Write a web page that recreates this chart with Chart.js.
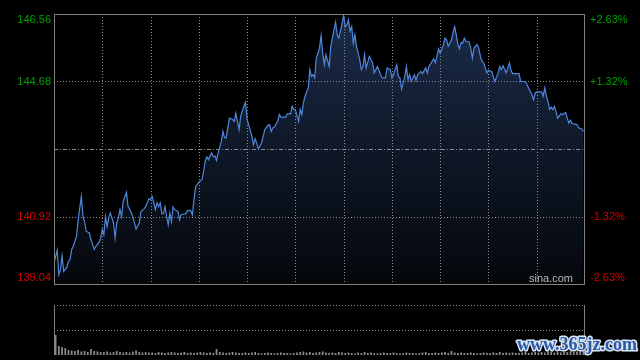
<!DOCTYPE html>
<html lang="zh-CN">
<head>
<meta charset="UTF-8">
<title>分时图</title>
<style>
  html, body { margin: 0; padding: 0; background: #000; }
  #wrap { position: relative; width: 640px; height: 360px; }
  #wrap canvas { position: absolute; left: 0; top: 0; }
</style>
</head>
<body>
<div id="wrap">
  <canvas id="priceChart" width="640" height="360"></canvas>
  <canvas id="volChart" width="640" height="360"></canvas>
</div>
<script src="https://cdn.jsdelivr.net/npm/chart.js"></script>
<script>
// minutes since open (HK session, 330 minutes)
const times = [0,2,3,4,5,6,8,9,10,11,12,14,15,17,18,19,20,22,23,25,26,28,29,30,31,32,33,34,35,37,38,39,40,41,42,43,45,46,47,49,50,51,53,
  54,56,57,59,60,61,62,63,64,65,66,67,68,69,70,71,72,73,74,75,77,78,79,81,82,83,85,86,87,88,89,90,92,93,94,95,96,97,98,99,100,101,102,104,105,106,107,108,
  109,111,112,113,115,116,118,119,120,121,123,124,125,126,127,129,130,131,133,134,135,136,137,139,140,141,144,145,147,148,149,150,152,153,154,155,156,158,159,160,161,162,163,165,
  166,167,168,169,171,172,174,175,176,177,178,180,181,182,183,184,185,186,187,188,190,191,192,193,194,196,198,199,201,203,204,206,207,209,210,211,213,214,215,216,218,219,220,221,
  222,224,225,226,228,229,231,232,233,235,236,237,239,240,241,242,243,244,245,247,248,249,250,251,252,253,254,255,256,258,259,260,261,263,264,265,266,267,268,269,270,272,273,
  274,276,277,278,279,280,281,283,284,285,289,290,293,294,296,297,298,299,300,303,304,305,306,307,308,309,310,311,312,313,315,316,318,319,320,321,322,325,326,328,329];

const prices = [139.63,139.98,139.30,139.44,139.83,139.39,139.51,139.67,139.72,140.00,140.09,140.37,140.83,141.48,140.92,140.78,140.51,140.46,140.27,140.00,
  140.09,140.20,140.32,140.57,140.41,140.92,140.64,140.88,141.02,140.74,140.32,140.74,140.88,141.11,140.92,141.34,141.59,141.20,141.13,140.92,140.74,140.57,140.74,
  141.06,141.13,141.20,141.42,141.39,141.48,141.31,141.11,141.30,141.20,141.30,141.00,141.00,141.19,140.92,140.69,141.02,140.78,141.19,141.11,
  141.06,140.83,140.97,140.99,141.00,141.09,141.08,140.97,141.39,141.74,141.81,141.87,141.95,142.18,142.46,142.58,142.50,142.61,142.69,142.58,
  142.61,142.48,142.69,143.01,143.29,143.11,143.11,143.39,
  143.66,143.62,143.57,143.80,143.34,143.71,143.99,144.10,143.62,143.48,143.15,142.92,143.08,142.97,142.80,142.97,143.15,143.34,143.46,143.48,
  143.29,143.39,143.41,143.57,143.76,143.69,143.69,143.78,143.78,143.99,143.90,143.90,143.57,143.90,143.76,144.08,144.27,144.50,145.01,144.82,
  144.87,144.78,145.33,145.61,
  145.96,145.47,145.15,145.43,145.10,145.66,146.12,146.33,145.98,145.89,146.08,146.51,146.21,146.26,146.40,146.08,146.21,145.75,145.98,145.66,
  145.29,145.01,145.10,145.43,145.06,145.38,145.20,144.92,145.10,144.87,144.78,144.78,145.06,145.01,144.78,144.87,145.15,144.82,144.78,144.47,
  144.82,145.10,144.73,144.87,
  144.68,144.87,144.71,144.87,144.96,144.90,145.06,144.92,145.10,145.24,145.31,145.20,145.59,145.47,145.57,145.71,145.89,145.84,145.66,145.84,
  146.05,146.21,145.98,145.71,145.59,145.77,145.75,145.89,145.80,145.78,145.61,145.33,145.61,145.71,145.61,145.38,145.24,145.20,145.06,144.92,
  144.99,144.96,144.82,
  144.68,144.92,145.10,145.01,145.12,145.03,144.92,145.20,144.99,144.90,144.90,144.68,144.68,144.59,144.40,144.31,144.17,144.36,144.39,144.39,
  144.27,144.50,144.27,144.13,143.90,143.97,143.90,143.99,143.85,143.66,143.78,143.76,143.82,143.66,143.52,143.60,143.51,143.48,143.39,143.36,
  143.29];

// volume, one bar per two minutes (relative units, panel top = 100)
const volumes = [40,18,16,14,10,9,8,10,7,8,6,12,8,7,6,
  6,7,5,6,8,6,5,6,5,7,9,6,5,6,5,
  5,4,6,5,4,5,6,5,4,5,6,4,5,4,5,
  6,5,4,5,4,12,6,5,4,5,6,5,4,4,5,
  4,5,6,4,3,4,5,4,3,4,5,4,4,3,4,
  5,6,7,5,6,4,5,6,7,5,4,5,4,6,5,
  4,5,4,3,5,4,6,4,5,4,3,4,5,4,4,
  5,4,3,4,5,4,4,3,4,5,6,4,4,5,4,
  5,6,4,8,5,4,5,4,4,5,4,3,4,5,4,
  4,5,4,6,4,5,4,5,4,4,5,6,4,5,6,
  5,6,5,7,6,5,6,5,7,6,8,6,7,9,10];

const prevClose = 142.80;
const priceTicks = [146.56, 144.68, 140.92, 139.04];
const pctTicks = ['+2.63%', '+1.32%', '-1.32%', '-2.63%'];
const timeTicks = [30, 60, 90, 120, 150, 180, 210, 240, 270, 300];

const LABEL_FONT = '11px "Liberation Sans", Arial, sans-serif';

function hLine(ctx, a, py) {
  ctx.beginPath();
  ctx.moveTo(a.left, py);
  ctx.lineTo(a.right, py);
  ctx.stroke();
}

const priceFrame = {
  id: 'priceFrame',
  beforeDatasetsDraw(chart) {
    const { ctx, chartArea: a, scales: { x, y } } = chart;
    ctx.save();
    ctx.strokeStyle = '#8a8a8a';
    ctx.lineWidth = 1;
    ctx.setLineDash([1, 2]);
    timeTicks.forEach(t => {
      const px = Math.round(x.getPixelForValue(t)) + 0.5;
      ctx.beginPath();
      ctx.moveTo(px, a.top);
      ctx.lineTo(px, a.bottom);
      ctx.stroke();
    });
    [priceTicks[1], priceTicks[2]].forEach(v => hLine(ctx, a, Math.round(y.getPixelForValue(v)) + 0.5));
    ctx.setLineDash([4, 2, 1, 2]);
    hLine(ctx, a, Math.round(y.getPixelForValue(prevClose)) + 0.5);
    ctx.restore();
  },
  afterDraw(chart) {
    const { ctx, chartArea: a, scales: { y } } = chart;
    ctx.save();
    ctx.strokeStyle = '#808080';
    ctx.lineWidth = 1;
    ctx.strokeRect(a.left + 0.5, a.top + 0.5, a.right - a.left - 1, a.bottom - a.top);

    ctx.font = LABEL_FONT;
    ctx.textBaseline = 'middle';
    priceTicks.forEach((v, i) => {
      let py = y.getPixelForValue(v);
      if (i === 0) py += 6;
      if (i === priceTicks.length - 1) py -= 6;
      ctx.fillStyle = v > prevClose ? '#00a000' : '#d40000';
      ctx.textAlign = 'right';
      ctx.fillText(v.toFixed(2), a.left - 3, py);
      ctx.textAlign = 'left';
      ctx.fillText(pctTicks[i], a.right + 5, py);
    });

    ctx.fillStyle = '#b8b8b8';
    ctx.textAlign = 'right';
    ctx.fillText('sina.com', a.right - 12, a.bottom - 5);
    ctx.restore();
  }
};

new Chart(document.getElementById('priceChart'), {
  type: 'line',
  data: {
    datasets: [{
      data: times.map((t, i) => ({ x: t, y: prices[i] })),
      borderColor: '#4f86db',
      borderWidth: 1.2,
      pointRadius: 0,
      tension: 0,
      fill: 'start',
      backgroundColor: (c) => {
        const a = c.chart.chartArea;
        if (!a) return 'rgba(0,0,0,0)';
        const g = c.chart.ctx.createLinearGradient(0, a.top, 0, a.bottom);
        g.addColorStop(0, '#1b2b4a');
        g.addColorStop(0.5, '#0f1828');
        g.addColorStop(1, '#05070b');
        return g;
      }
    }]
  },
  options: {
    responsive: false,
    animation: false,
    layout: { padding: { left: 54, right: 55, top: 14, bottom: 76 } },
    scales: {
      x: { type: 'linear', min: 0, max: 330, display: false },
      y: { min: 139.04, max: 146.56, display: false }
    },
    plugins: {
      legend: { display: false },
      tooltip: { enabled: false },
      filler: { drawTime: 'beforeDatasetsDraw' }
    }
  },
  plugins: [priceFrame]
});

const volFrame = {
  id: 'volFrame',
  beforeDatasetsDraw(chart) {
    const { ctx, chartArea: a, scales: { y } } = chart;
    ctx.save();
    ctx.strokeStyle = '#8a8a8a';
    ctx.lineWidth = 1;
    ctx.setLineDash([1, 2]);
    hLine(ctx, a, Math.round(y.getPixelForValue(100)) + 0.5);
    hLine(ctx, a, Math.round(y.getPixelForValue(50)) + 0.5);
    ctx.restore();
  },
  afterDraw(chart) {
    const { ctx, chartArea: a } = chart;
    ctx.save();
    ctx.strokeStyle = '#808080';
    ctx.lineWidth = 1;
    ctx.beginPath();
    ctx.moveTo(a.left + 0.5, a.top);
    ctx.lineTo(a.left + 0.5, a.bottom);
    ctx.moveTo(a.right - 0.5, a.top);
    ctx.lineTo(a.right - 0.5, a.bottom);
    ctx.stroke();

    // site watermark
    ctx.font = 'bold 18px "Liberation Serif", "DejaVu Serif", serif';
    ctx.textAlign = 'left';
    ctx.textBaseline = 'middle';
    ctx.lineJoin = 'round';
    ctx.lineWidth = 3;
    ctx.strokeStyle = '#d8e4f4';
    ctx.strokeText('www.365jz.com', 517, 345);
    ctx.fillStyle = '#2a5aa6';
    ctx.fillText('www.365jz.com', 517, 345);
    ctx.restore();
  }
};

new Chart(document.getElementById('volChart'), {
  type: 'bar',
  data: {
    labels: volumes.map((v, i) => i),
    datasets: [{
      data: volumes,
      backgroundColor: '#8a8a8a',
      barPercentage: 0.55,
      categoryPercentage: 1
    }]
  },
  options: {
    responsive: false,
    animation: false,
    layout: { padding: { left: 54, right: 55, top: 305, bottom: 5 } },
    scales: {
      x: { display: false },
      y: { min: 0, max: 100, display: false }
    },
    plugins: {
      legend: { display: false },
      tooltip: { enabled: false }
    }
  },
  plugins: [volFrame]
});
</script>
</body>
</html>
